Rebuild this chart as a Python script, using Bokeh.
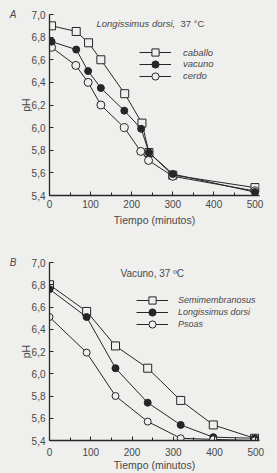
from bokeh.plotting import figure
from bokeh.models import FixedTicker, Legend, LegendItem, Label, Range1d, LinearAxis
from bokeh.layouts import column
from bokeh.embed import file_html
from bokeh.resources import INLINE

BG = "#efefed"
INK = "#262626"
TXT = "#484848"
FONT = "Liberation Sans"

# ---------------- data ----------------
# Panel A: Longissimus dorsi, 37 °C
a_caballo_t = [5, 65, 95, 125, 183, 225, 242, 300, 500]
a_caballo_ph = [6.90, 6.85, 6.75, 6.60, 6.30, 6.04, 5.78, 5.58, 5.47]
a_vacuno_t = [5, 65, 94, 125, 182, 223, 242, 300, 500]
a_vacuno_ph = [6.76, 6.69, 6.50, 6.35, 6.15, 5.99, 5.78, 5.59, 5.43]
a_cerdo_t = [5, 64, 94, 125, 182, 222, 241, 300, 500]
a_cerdo_ph = [6.71, 6.55, 6.40, 6.20, 6.00, 5.79, 5.71, 5.57, 5.44]

# Panel B: Vacuno, 37 °C
b_t = [0, 90, 160, 238, 318, 397, 497]
b_semi_ph = [6.80, 6.56, 6.25, 6.05, 5.76, 5.54, 5.42]
b_long_ph = [6.76, 6.51, 6.05, 5.74, 5.54, 5.43, 5.42]
b_psoas_ph = [6.51, 6.19, 5.80, 5.57, 5.42, 5.41, 5.40]

y_ticks = [5.4, 5.6, 5.8, 6.0, 6.2, 6.4, 6.6, 6.8, 7.0]
y_tick_labels = ["5,4", "5,6", "5,8", "6,0", "6,2", "6,4", "6,6", "6,8", "7,0"]
x_ticks = [0, 100, 200, 300, 400, 500]
x_minor_ticks = [50, 150, 250, 350, 450]
x_label = "Tiempo (minutos)"
y_label = "pH"


def make_fig(h, top, bottom, left, right, x_end, xl_standoff, xa_standoff, letter):
    p = figure(width=277, height=h, x_range=Range1d(0, x_end), y_range=Range1d(5.4, 7.0),
               output_backend="svg", toolbar_location=None, title=None,
               min_border_top=top, min_border_bottom=bottom,
               min_border_left=left, min_border_right=right)
    p.grid.visible = False
    p.outline_line_color = None
    p.background_fill_color = BG
    p.border_fill_color = BG
    for ax in (p.xaxis[0], p.yaxis[0]):
        ax.axis_line_color = INK
        ax.axis_line_width = 1.3
        ax.major_tick_line_color = INK
        ax.minor_tick_line_color = INK
        ax.major_tick_in = 4
        ax.major_tick_out = 0
        ax.minor_tick_in = 3
        ax.minor_tick_out = 0
        ax.major_label_text_font = FONT
        ax.major_label_text_font_size = "10px"
        ax.major_label_text_color = TXT
        ax.axis_label_text_font = FONT
        ax.axis_label_text_font_size = "10.5px"
        ax.axis_label_text_font_style = "normal"
        ax.axis_label_text_color = TXT
    p.xaxis.ticker = FixedTicker(ticks=x_ticks, minor_ticks=x_minor_ticks)
    p.yaxis.ticker = FixedTicker(ticks=y_ticks, minor_ticks=[])
    p.yaxis.major_label_overrides = {v: s for v, s in zip(y_ticks, y_tick_labels)}
    p.xaxis.axis_label = x_label
    p.yaxis.axis_label = y_label
    p.xaxis.major_label_standoff = xl_standoff
    p.xaxis.axis_label_standoff = xa_standoff
    p.yaxis.major_label_standoff = 4
    p.yaxis.axis_label_standoff = -3
    # panel letter, drawn as an extra left axis with a single label at the top
    la = LinearAxis(ticker=FixedTicker(ticks=[y_ticks[-1]], minor_ticks=[]),
                    major_label_overrides={y_ticks[-1]: letter},
                    axis_line_color=None, major_tick_line_color=None,
                    minor_tick_line_color=None, major_label_standoff=0,
                    major_tick_in=0, major_tick_out=0,
                    major_label_text_font=FONT, major_label_text_font_size="10px",
                    major_label_text_font_style="italic", major_label_text_color=TXT)
    p.add_layout(la, "left")
    return p


def series(p, t, ph, marker, fill, size):
    l = p.line(t, ph, line_color=INK, line_width=1.0)
    s = p.scatter(t, ph, marker=marker, size=size, line_color=INK, line_width=1.0,
                  fill_color=fill)
    return [l, s]


def legend(p, items, x, y_top, step, standoff, size):
    # one small legend per entry so the rows can sit closer than the glyph box
    for i, (lab, r) in enumerate(items):
        lg = Legend(items=[LegendItem(label=lab, renderers=r)],
                    location=(x, y_top - i * step), orientation="vertical",
                    background_fill_alpha=0, border_line_color=None,
                    padding=0, margin=0, spacing=0,
                    glyph_width=32, glyph_height=18, label_height=12,
                    label_standoff=standoff,
                    label_text_font=FONT, label_text_font_size=size,
                    label_text_font_style="italic", label_text_color=TXT)
        p.add_layout(lg)


def label(p, x, y, text, size, style, color=TXT):
    p.add_layout(Label(x=x, y=y, x_units="screen", y_units="screen", text=text,
                       text_font=FONT, text_font_size=size, text_font_style=style,
                       text_color=color, text_baseline="middle", text_align="left"))


# ---------------- Panel A ----------------
pa = make_fig(236, 14, 41, 49, 15, 511, 4, 3, "A")
r_cab = series(pa, a_caballo_t, a_caballo_ph, "square", BG, 8)
r_cer = series(pa, a_cerdo_t, a_cerdo_ph, "circle", BG, 8)
r_vac = series(pa, a_vacuno_t, a_vacuno_ph, "circle", INK, 7)
legend(pa, [("caballo", r_cab), ("vacuno", r_vac), ("cerdo", r_cer)], 90, 134, 11.8, 12, "9.5px")
label(pa, 47, 172, "Longissimus dorsi,", "9.5px", "italic")
label(pa, 131, 172, "37 °C", "9.5px", "normal")

# ---------------- Panel B ----------------
pb = make_fig(237, 26, 33, 48, 18, 509, 7, 0, "B")
r_semi = series(pb, b_t, b_semi_ph, "square", BG, 8)
r_long = series(pb, b_t, b_long_ph, "circle", INK, 7)
r_pso = series(pb, b_t, b_psoas_ph, "circle", BG, 7)
legend(pb, [("Semimembranosus", r_semi), ("Longissimus dorsi", r_long), ("Psoas", r_pso)],
       87, 131, 12, 10, "9px")
label(pb, 71, 167, "Vacuno, 37 ºC", "10px", "normal")

layout = column(pa, pb, spacing=0)
layout.styles = {"background-color": BG}
open("out.html", "w").write(file_html(layout, INLINE))
